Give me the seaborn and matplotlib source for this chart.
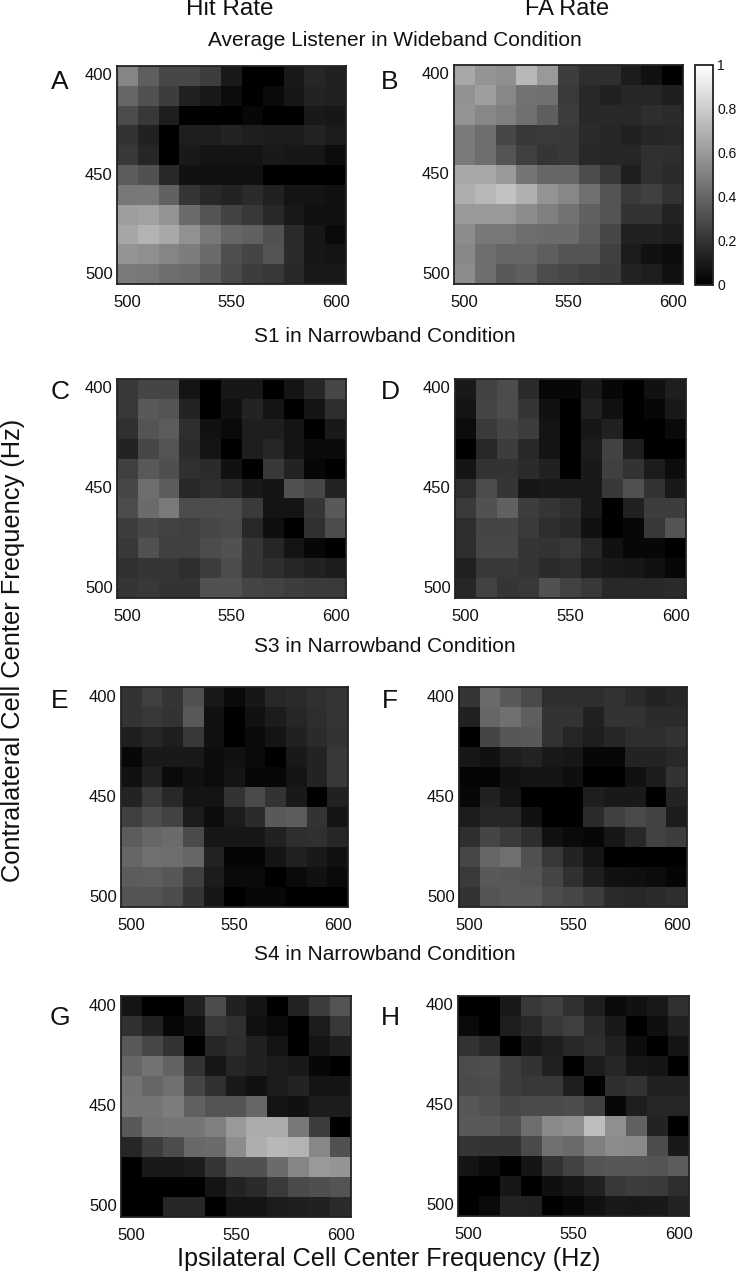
import numpy as np
import seaborn as sns
import matplotlib.pyplot as plt

# cell values, rows top to bottom (400 -> 500 Hz)
panel_a = [
    [.52, .37, .28, .28, .24, .10, .00, .00, .10, .15, .13],
    [.40, .32, .24, .13, .10, .05, .00, .04, .09, .14, .13],
    [.30, .22, .12, .00, .00, .00, .03, .00, .00, .10, .09],
    [.20, .13, .00, .12, .12, .14, .12, .11, .11, .14, .11],
    [.22, .15, .00, .10, .08, .08, .08, .10, .09, .09, .05],
    [.36, .32, .16, .07, .07, .07, .07, .00, .00, .00, .00],
    [.47, .47, .38, .21, .16, .14, .17, .13, .08, .08, .07],
    [.62, .63, .58, .42, .33, .26, .22, .16, .10, .07, .07],
    [.65, .70, .66, .57, .47, .40, .38, .32, .17, .09, .04],
    [.58, .56, .52, .49, .42, .31, .27, .33, .17, .09, .08],
    [.48, .47, .43, .42, .36, .29, .24, .22, .16, .10, .10],
]
panel_b = [
    [.66, .58, .56, .72, .60, .24, .18, .18, .11, .07, .00],
    [.57, .62, .53, .45, .44, .23, .16, .13, .15, .15, .12],
    [.58, .53, .50, .44, .37, .24, .16, .16, .16, .18, .17],
    [.48, .43, .28, .22, .23, .22, .17, .15, .13, .15, .16],
    [.48, .43, .33, .25, .21, .22, .16, .15, .15, .19, .18],
    [.66, .66, .60, .46, .40, .40, .30, .22, .12, .19, .17],
    [.68, .72, .76, .69, .58, .53, .44, .33, .23, .25, .20],
    [.60, .60, .60, .55, .50, .45, .38, .33, .20, .20, .14],
    [.55, .47, .47, .43, .42, .42, .36, .28, .13, .13, .11],
    [.53, .43, .40, .40, .37, .33, .33, .25, .11, .07, .05],
    [.55, .43, .35, .37, .30, .28, .25, .24, .14, .12, .07],
]
panel_c = [
    [.22, .27, .27, .08, .00, .09, .09, .00, .08, .15, .28],
    [.22, .35, .33, .14, .00, .07, .14, .08, .00, .08, .18],
    [.19, .33, .36, .18, .07, .04, .12, .12, .08, .00, .10],
    [.14, .28, .33, .17, .08, .00, .12, .15, .08, .04, .04],
    [.25, .35, .31, .19, .17, .07, .00, .22, .14, .03, .00],
    [.28, .43, .36, .16, .18, .16, .10, .08, .32, .28, .14],
    [.30, .42, .48, .30, .30, .30, .23, .08, .08, .21, .35],
    [.24, .28, .26, .25, .28, .29, .16, .06, .00, .19, .30],
    [.22, .32, .25, .25, .30, .32, .21, .15, .08, .03, .00],
    [.19, .21, .21, .18, .24, .30, .21, .18, .15, .13, .11],
    [.21, .22, .20, .20, .32, .32, .27, .26, .24, .23, .23],
]
panel_d = [
    [.10, .26, .30, .17, .03, .03, .10, .03, .00, .07, .12],
    [.08, .27, .30, .21, .07, .00, .13, .07, .00, .03, .10],
    [.05, .23, .27, .24, .08, .00, .09, .13, .00, .00, .04],
    [.00, .16, .24, .16, .08, .00, .11, .26, .12, .00, .00],
    [.08, .20, .20, .17, .13, .00, .10, .25, .20, .11, .05],
    [.18, .30, .21, .09, .10, .10, .10, .22, .32, .20, .10],
    [.23, .32, .38, .24, .21, .18, .10, .00, .13, .24, .24],
    [.18, .27, .27, .23, .18, .16, .07, .00, .03, .22, .33],
    [.18, .28, .28, .21, .20, .22, .15, .07, .03, .03, .00],
    [.13, .22, .22, .21, .17, .18, .12, .10, .09, .07, .03],
    [.15, .26, .21, .22, .32, .26, .22, .16, .16, .16, .17],
]
panel_e = [
    [.20, .25, .21, .32, .10, .04, .09, .16, .17, .19, .21],
    [.20, .22, .20, .35, .07, .00, .07, .11, .15, .18, .21],
    [.12, .15, .12, .22, .07, .00, .04, .08, .13, .17, .20],
    [.03, .10, .10, .10, .05, .07, .04, .00, .10, .14, .22],
    [.07, .13, .04, .07, .05, .08, .03, .03, .08, .14, .22],
    [.14, .23, .16, .08, .08, .20, .29, .20, .10, .00, .13],
    [.25, .30, .26, .11, .05, .11, .17, .35, .36, .20, .08],
    [.36, .40, .42, .29, .09, .09, .09, .13, .18, .19, .15],
    [.40, .44, .43, .40, .14, .02, .02, .08, .13, .10, .07],
    [.36, .37, .34, .25, .11, .04, .04, .00, .04, .07, .04],
    [.33, .33, .30, .21, .09, .00, .03, .03, .00, .00, .00],
]
panel_f = [
    [.21, .42, .35, .29, .18, .18, .18, .20, .17, .14, .15],
    [.13, .40, .44, .37, .20, .20, .13, .20, .20, .17, .17],
    [.00, .27, .34, .35, .20, .15, .12, .15, .18, .18, .20],
    [.09, .07, .12, .14, .10, .09, .03, .03, .14, .14, .16],
    [.02, .02, .07, .08, .08, .06, .00, .00, .07, .11, .20],
    [.03, .13, .08, .00, .00, .00, .12, .10, .10, .00, .14],
    [.11, .15, .15, .07, .00, .00, .17, .25, .29, .26, .11],
    [.18, .27, .23, .18, .07, .04, .03, .09, .16, .26, .24],
    [.28, .40, .44, .32, .22, .14, .08, .00, .00, .00, .00],
    [.23, .35, .34, .33, .27, .19, .12, .07, .06, .05, .02],
    [.20, .33, .35, .35, .30, .28, .24, .17, .16, .17, .18],
]
panel_g = [
    [.08, .00, .00, .13, .30, .13, .08, .00, .14, .24, .33],
    [.19, .13, .03, .07, .22, .19, .07, .04, .00, .11, .22],
    [.35, .28, .20, .00, .15, .18, .13, .08, .00, .08, .12],
    [.40, .45, .39, .20, .09, .15, .13, .11, .10, .03, .00],
    [.45, .40, .44, .27, .19, .10, .07, .11, .14, .08, .08],
    [.46, .46, .49, .38, .33, .33, .40, .08, .07, .11, .11],
    [.35, .45, .46, .46, .50, .60, .67, .67, .47, .24, .00],
    [.15, .24, .30, .41, .42, .55, .68, .72, .70, .53, .32],
    [.00, .10, .10, .11, .21, .32, .32, .42, .52, .60, .58],
    [.00, .00, .00, .00, .08, .14, .17, .23, .29, .31, .33],
    [.00, .00, .15, .15, .00, .08, .08, .11, .12, .13, .17],
]
panel_h = [
    [.00, .00, .10, .22, .25, .19, .12, .04, .07, .10, .19],
    [.04, .00, .12, .16, .22, .25, .17, .10, .00, .06, .13],
    [.20, .16, .00, .09, .12, .16, .18, .13, .05, .00, .08],
    [.30, .31, .24, .20, .13, .00, .11, .15, .09, .08, .00],
    [.29, .30, .24, .22, .22, .12, .00, .18, .20, .13, .13],
    [.34, .32, .28, .29, .29, .30, .25, .03, .12, .15, .15],
    [.35, .35, .32, .43, .54, .56, .74, .56, .38, .14, .00],
    [.21, .20, .20, .29, .44, .42, .50, .55, .54, .30, .10],
    [.08, .05, .00, .08, .20, .26, .33, .34, .34, .33, .36],
    [.00, .00, .09, .00, .06, .09, .13, .22, .24, .23, .18],
    [.00, .04, .14, .13, .00, .03, .07, .10, .09, .10, .14],
]

x_ticks = [500, 550, 600]
y_ticks = [400, 450, 500]
cbar_ticks = [0, 0.2, 0.4, 0.6, 0.8, 1]
cbar_labels = ['0', '0.2', '0.4', '0.6', '0.8', '1']
letters = ['A', 'B', 'C', 'D', 'E', 'F', 'G', 'H']
all_panels = [panel_a, panel_b, panel_c, panel_d, panel_e, panel_f, panel_g, panel_h]

# axes boxes in pixels: left, top, right, bottom
boxes = [(117, 66, 346, 284), (454, 65, 683, 284),
         (117, 379, 346, 598), (455, 379, 686, 598),
         (121, 687, 348, 907), (459, 687, 687, 907),
         (121, 996, 351, 1217), (458, 996, 689, 1216)]
letter_pos = [(60, 82), (390, 82), (60, 392), (390, 392),
              (60, 701), (390, 701), (60, 1018), (390, 1018)]

W, H = 736, 1280

sns.set_style('white')
plt.rcParams['font.family'] = ['Liberation Sans', 'DejaVu Sans']

fig = plt.figure(figsize=(W / 100, H / 100), dpi=100)


def px_axes(box):
    l, t, r, b = box
    return fig.add_axes([l / W, 1 - b / H, (r - l) / W, (b - t) / H])


def px_text(x, y, s, **kw):
    fig.text(x / W, 1 - y / H, s, ha=kw.pop('ha', 'center'), va='center', color='#111111', **kw)


cbar_ax = px_axes((695, 65, 713, 285))
axes = []
for i, vals in enumerate(all_panels):
    ax = px_axes(boxes[i])
    sns.heatmap(np.array(vals), ax=ax, cmap='gray', vmin=0, vmax=1, square=False,
                cbar=(i == 1), cbar_ax=cbar_ax if i == 1 else None)
    ax.set_xticks([0.5, 5.5, 10.5])
    ax.set_xticklabels(x_ticks, rotation=0, fontsize=12)
    ax.set_yticks([0.5, 5.5, 10.5])
    ax.set_yticklabels(y_ticks, rotation=0, fontsize=12)
    ax.tick_params(axis='both', direction='in', length=2, width=0.6, color='#555555',
                   labelcolor='#111111', top=True, right=True, bottom=True, left=True, pad=8)
    ax.tick_params(axis='y', pad=3)
    for sp in ax.spines.values():
        sp.set_visible(True)
        sp.set_linewidth(1.3)
        sp.set_color('#222222')
    px_text(letter_pos[i][0], letter_pos[i][1], letters[i], fontsize=19)
    axes.append(ax)

cbar = axes[1].collections[0].colorbar
cbar.set_ticks(cbar_ticks)
cbar.set_ticklabels(cbar_labels)
cbar.ax.tick_params(labelsize=10, labelcolor='#111111', length=2, width=0.6, direction='in', pad=3)
cbar.outline.set_visible(True)
cbar.outline.set_linewidth(1.3)
cbar.outline.set_edgecolor('#222222')

px_text(230, 9, 'Hit Rate', fontsize=17.5)
px_text(567, 9, 'FA Rate', fontsize=17)
px_text(395, 41, 'Average Listener in Wideband Condition', fontsize=15)
px_text(385, 336, 'S1 in Narrowband Condition', fontsize=15)
px_text(385, 647, 'S3 in Narrowband Condition', fontsize=15)
px_text(385, 955, 'S4 in Narrowband Condition', fontsize=15)
px_text(13, 650, 'Contralateral Cell Center Frequency (Hz)', fontsize=18.3, rotation=90)
px_text(389, 1259, 'Ipsilateral Cell Center Frequency (Hz)', fontsize=18.2)

plt.savefig('out.png', dpi=100)
